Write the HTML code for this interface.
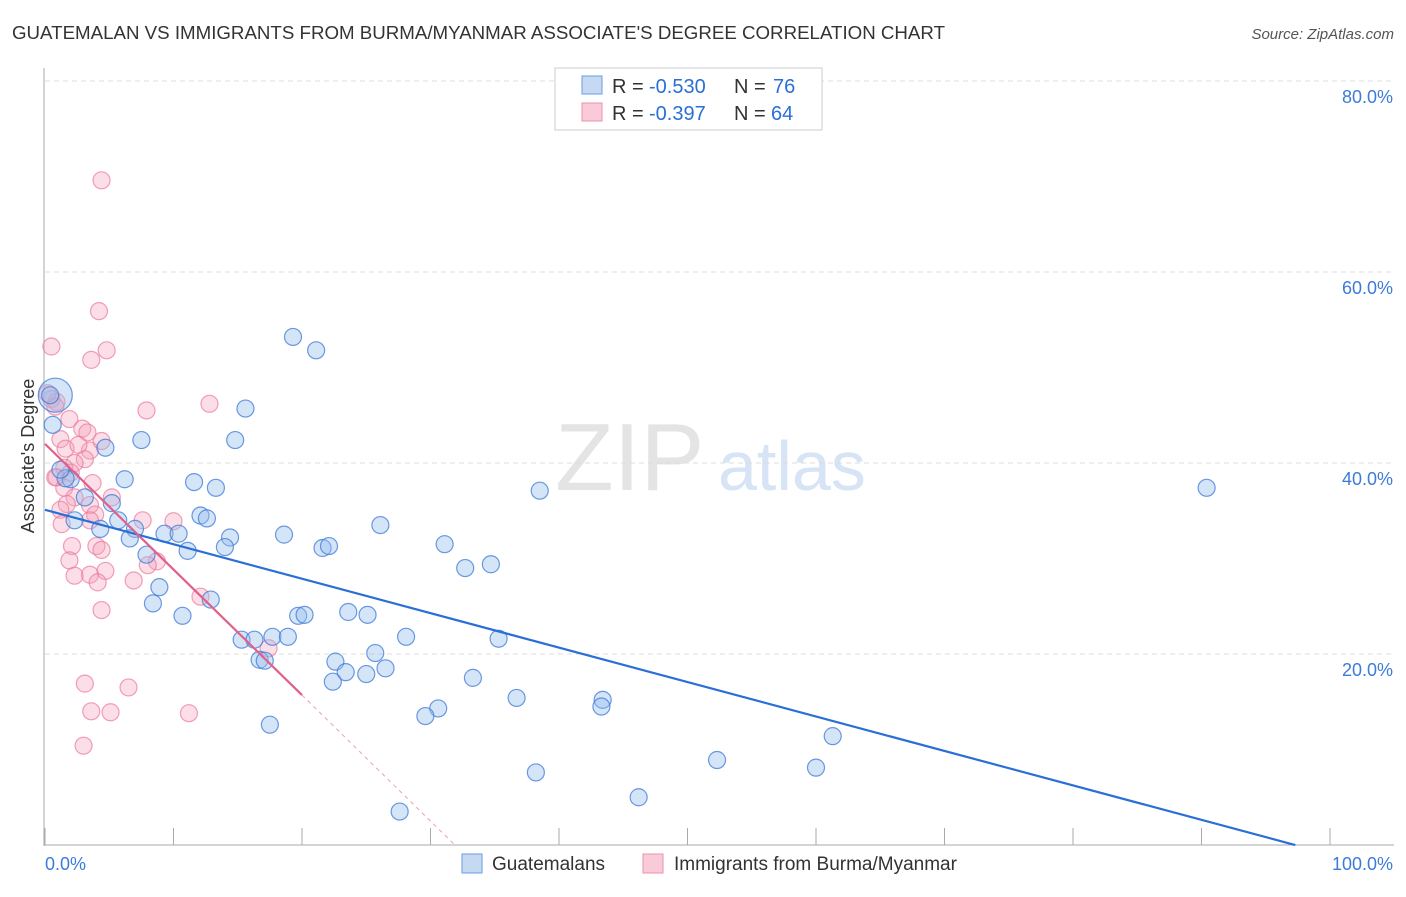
<!DOCTYPE html>
<html><head><meta charset="utf-8">
<style>
body{margin:0;background:#fff;font-family:"Liberation Sans",sans-serif;}
svg text{font-family:"Liberation Sans",sans-serif;}
</style></head>
<body>
<svg id="chart" width="1406" height="892" viewBox="0 0 1406 892">
<text x="12" y="39" font-size="18" fill="#333" textLength="933" lengthAdjust="spacingAndGlyphs">GUATEMALAN VS IMMIGRANTS FROM BURMA/MYANMAR ASSOCIATE'S DEGREE CORRELATION CHART</text>
<text x="1394" y="39" font-size="15" fill="#555" text-anchor="end" font-style="italic">Source: ZipAtlas.com</text>
<text x="555" y="490" font-size="96" fill="#e4e4e4" font-family="Liberation Serif">ZIP</text>
<text x="718" y="490" font-size="70" fill="#d6e4f5">atlas</text>
<g id="grid"></g>
<g id="axes"></g>
<g id="pts"></g>
<g id="trend"></g>
<text transform="translate(34,456) rotate(-90)" font-size="18" fill="#333" text-anchor="middle">Associate's Degree</text>
<g>
<rect x="555" y="68" width="267" height="62" fill="#fff" stroke="#ccc"/>
<rect x="582" y="76" width="20" height="18" fill="#c5d9f3" stroke="#6a9de0"/>
<rect x="582" y="103" width="20" height="18" fill="#f9cbd8" stroke="#ec92ad"/>
<text x="612" y="93" font-size="20" fill="#333">R =</text>
<text x="649" y="93" font-size="20" fill="#2a6fd6">-0.530</text>
<text x="734" y="93" font-size="20" fill="#333">N =</text>
<text x="773" y="93" font-size="20" fill="#2a6fd6">76</text>
<text x="612" y="120" font-size="20" fill="#333">R =</text>
<text x="649" y="120" font-size="20" fill="#2a6fd6">-0.397</text>
<text x="734" y="120" font-size="20" fill="#333">N =</text>
<text x="771" y="120" font-size="20" fill="#2a6fd6">64</text>
</g>
<g>
<rect x="462" y="854" width="20" height="19" fill="#c5d9f3" stroke="#6a9de0"/>
<text x="492" y="870" font-size="19" fill="#333">Guatemalans</text>
<rect x="643" y="854" width="20" height="19" fill="#f9cbd8" stroke="#ec92ad"/>
<text x="674" y="870" font-size="19" fill="#333">Immigrants from Burma/Myanmar</text>
</g>
</svg>
<script>
const yTicks=[20,40,60,80];
const yTickLabels=["20.0%","40.0%","60.0%","80.0%"];
const xLabels=["0.0%","100.0%"];
const blueX=[19.3,21.1,15.6,7.5,14.8,4.7,6.2,11.6,13.3,38.5,90.4,5.2,3.1,2.0,1.6,4.3,5.7,2.3,7.0,9.3,6.6,10.4,12.1,12.6,14.4,7.9,11.1,14.0,18.6,21.6,22.1,26.1,31.1,32.7,34.7,8.9,8.4,12.9,10.7,19.7,20.2,23.6,25.1,15.3,16.3,17.7,18.9,28.1,35.3,25.7,22.6,16.7,17.1,23.4,25.0,26.5,22.4,33.3,36.7,43.4,43.3,30.6,29.6,17.5,61.3,52.3,38.2,60.0,46.2,27.6,0.8,0.6,1.2,0.4];
const blueY=[53.2,51.8,45.7,42.4,42.4,41.6,38.3,38.0,37.4,37.1,37.4,35.8,36.4,38.3,38.4,33.1,34.0,34.0,33.1,32.6,32.1,32.6,34.5,34.2,32.2,30.4,30.8,31.2,32.5,31.1,31.3,33.5,31.5,29.0,29.4,27.0,25.3,25.7,24.0,24.0,24.1,24.4,24.1,21.5,21.5,21.8,21.8,21.8,21.6,20.1,19.2,19.4,19.3,18.1,17.9,18.5,17.1,17.5,15.4,15.2,14.5,14.3,13.5,12.6,11.4,8.9,7.6,8.1,5.0,3.5,47.1,44.0,39.3,47.1];
const pinkX=[4.4,4.2,0.5,4.8,3.6,12.8,7.9,0.5,0.9,0.2,0.8,1.9,2.9,3.3,1.2,1.6,3.5,3.1,2.6,4.4,2.3,1.5,2.0,0.9,3.7,1.5,2.3,1.7,5.2,3.5,1.2,3.9,10.0,3.5,1.3,2.1,4.0,4.4,1.9,8.7,8.0,4.7,2.3,3.5,4.1,6.9,12.1,4.4,7.6,3.1,6.5,3.6,5.1,11.2,3.0,17.4,0.8];
const pinkY=[69.6,55.9,52.2,51.8,50.8,46.2,45.5,46.7,46.4,47.3,45.9,44.6,43.6,43.2,42.5,41.5,41.3,40.4,41.9,42.3,40.0,39.5,39.0,38.5,37.9,37.4,36.4,35.7,36.4,35.6,35.1,34.6,33.9,34.0,33.6,31.3,31.3,30.9,29.8,29.7,29.3,28.7,28.2,28.3,27.5,27.7,26.0,24.6,34.0,16.9,16.5,14.0,13.9,13.8,10.4,20.6,38.5];
const x0=45,x1=1330,yb=845,ys=9.55;
const sx=v=>x0+(x1-x0)*v/100, sy=v=>yb-v*ys;
const NS="http://www.w3.org/2000/svg";
function mk(t,a,p){const e=document.createElementNS(NS,t);for(const k in a)e.setAttribute(k,a[k]);p.appendChild(e);return e;}
const grid=document.getElementById('grid'),axes=document.getElementById('axes');
yTicks.forEach((t,i)=>{
  const g=mk('line',{x1:45,x2:1394,y1:sy(t),y2:sy(t),stroke:'#ddd','stroke-dasharray':'5,4'},grid);
  
  
  const l=mk('text',{x:1393,y:sy(t)+22,'font-size':18,fill:'#3d7bd9','text-anchor':'end'},axes);
  l.textContent=yTickLabels[i];
  
  
});
const ya=mk('line',{x1:44,x2:44,y1:68,y2:846,stroke:'#aaa'},axes);


const xa=mk('line',{x1:44,x2:1394,y1:845,y2:845,stroke:'#aaa'},axes);


for(let i=0;i<=10;i++){const t=mk('line',{x1:sx(i*10),x2:sx(i*10),y1:828,y2:845,stroke:'#aaa'},axes);
  
  }
[[xLabels[0],45,'start'],[xLabels[1],1393,'end']].forEach(d=>{const l=mk('text',{x:d[1],y:870,'font-size':18,fill:'#3d7bd9','text-anchor':d[2]},axes);l.textContent=d[0];
  
  });
const pts=document.getElementById('pts');
pinkX.forEach((x,i)=>{const c=mk('circle',{cx:sx(x),cy:sy(pinkY[i]),r:8.5,fill:'rgba(244,160,185,0.35)',stroke:'rgba(236,120,155,0.7)','stroke-width':1.2},pts);
  
  });
blueX.forEach((x,i)=>{const c=mk('circle',{cx:sx(x),cy:sy(blueY[i]),r:i==70?17:8.5,fill:'rgba(150,190,238,0.4)',stroke:'rgba(60,120,215,0.75)','stroke-width':1.2},pts);
  
  });
const tr=document.getElementById('trend');
const bl=mk('line',{x1:sx(0),y1:sy(35.1),x2:sx(97.3),y2:sy(0),stroke:'#2a6fd6','stroke-width':2.2},tr);


const pl=mk('line',{x1:sx(0),y1:sy(42),x2:sx(20),y2:sy(15.7),stroke:'#e0608a','stroke-width':2.2},tr);


const pd=mk('line',{x1:sx(20),y1:sy(15.7),x2:sx(31.9),y2:sy(0),stroke:'#e8a0b8','stroke-width':1,'stroke-dasharray':'4,4'},tr);


</script>
</body></html>
